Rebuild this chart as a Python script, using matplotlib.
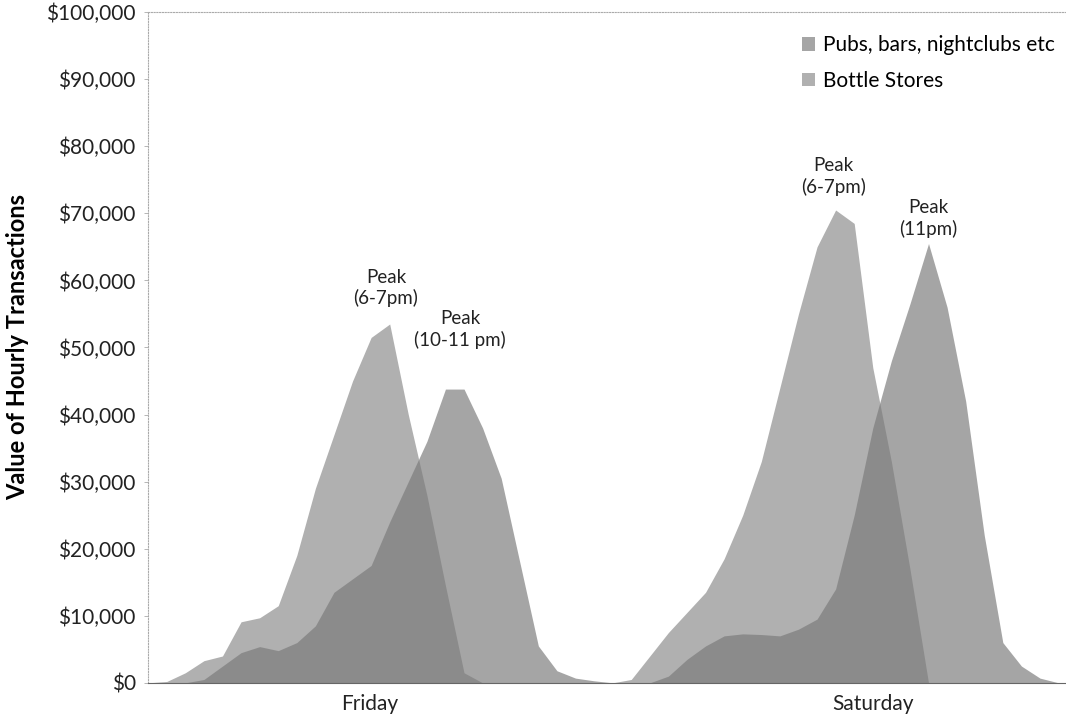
import matplotlib.pyplot as plt
from matplotlib.patches import Patch
from matplotlib.ticker import FuncFormatter, MultipleLocator

plt.rcParams['font.family'] = ['Lato', 'DejaVu Sans']

# hourly slots, Friday morning through early Sunday
hours = list(range(50))

bottle_stores = [0, 200, 1500, 3300, 4000, 9100, 9700, 11500, 19000, 29000,
                 37000, 45000, 51500, 53500, 40000, 28000, 14500, 1500, 0, 0,
                 0, 0, 0, 0, 0,
                 0, 500, 4000, 7500, 10500, 13500, 18500, 25000, 33000, 44000,
                 55000, 65000, 70500, 68500, 47000, 33000, 17000, 0, 0, 0,
                 0, 0, 0, 0, 0]

pubs = [0, 0, 0, 500, 2500, 4500, 5400, 4800, 6000, 8500,
        13500, 15500, 17500, 24000, 30000, 36000, 43800, 43800, 38000, 30500,
        18000, 5500, 1800, 700, 300,
        0, 0, 0, 1000, 3500, 5500, 7000, 7300, 7200, 7000,
        8000, 9500, 14000, 25000, 38000, 48000, 56500, 65500, 56000, 42000,
        22000, 6000, 2500, 700, 0]

day_labels = ['Friday', 'Saturday']
day_ticks = [11.9, 39.0]

# label text, hour it sits over, and the series peak it points at
peak_labels = ['Peak\n(6-7pm)', 'Peak\n(10-11 pm)', 'Peak\n(6-7pm)', 'Peak\n(11pm)']
peak_hours = [12.8, 16.8, 36.9, 42.0]
peak_values = [53500, 43800, 70500, 65500]
label_gap = [12, 29, 10, 4]   # points above the peak

fig = plt.figure(figsize=(10.66, 7.15), dpi=100)
ax = fig.add_axes([0.139, 0.045, 0.861, 0.938])

bottle_col = '#b0b0b0'
pubs_col = '#7a7a7a'
pubs_alpha = 0.675
ax.fill_between(hours, bottle_stores, color=bottle_col, lw=0)
ax.fill_between(hours, pubs, color=pubs_col, alpha=pubs_alpha, lw=0)

ax.set_xlim(0, 49.4)
ax.set_ylim(0, 100000)
ax.yaxis.set_major_locator(MultipleLocator(10000))
ax.yaxis.set_major_formatter(FuncFormatter(lambda v, p: '${:,.0f}'.format(v)))
ax.set_xticks(day_ticks)
ax.set_xticklabels(day_labels)
ax.tick_params(axis='x', length=0, labelsize=15, colors='#222222', pad=8)
ax.tick_params(axis='y', length=3, width=0.6, color='#aaaaaa',
               labelsize=15, labelcolor='#222222', pad=6)

ax.set_ylabel('Value of Hourly Transactions', fontsize=17, fontweight='bold',
              labelpad=12)

for side in ['left', 'top']:
    ax.spines[side].set_color('#aaaaaa')
    ax.spines[side].set_linestyle((0, (1, 1.5)))
    ax.spines[side].set_linewidth(0.8)
ax.spines['right'].set_visible(False)
ax.spines['bottom'].set_color('#666666')
ax.spines['bottom'].set_linewidth(0.8)

for label, x, val, gap in zip(peak_labels, peak_hours, peak_values, label_gap):
    ax.annotate(label, xy=(x, val), xytext=(0, gap), textcoords='offset points',
                ha='center', va='bottom', fontsize=13.5, linespacing=1.25,
                color='#222222')

handles = [Patch(facecolor=pubs_col, alpha=pubs_alpha, label='Pubs, bars, nightclubs etc'),
           Patch(facecolor=bottle_col, label='Bottle Stores')]
ax.legend(handles=handles, loc='upper right', bbox_to_anchor=(0.997, 0.978),
          frameon=False, fontsize=15, handlelength=0.6, handleheight=0.6,
          handletextpad=0.4, labelspacing=0.75, borderaxespad=0)

fig.savefig('out.png', dpi=100)
